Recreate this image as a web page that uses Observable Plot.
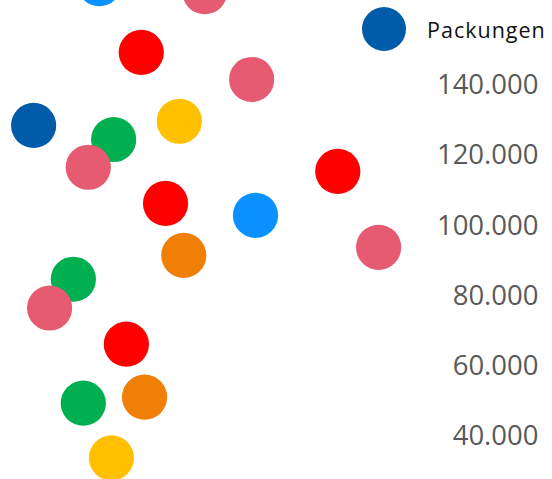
<!DOCTYPE html>
<html lang="de">
<head>
<meta charset="utf-8">
<script src="https://cdn.jsdelivr.net/npm/d3@7"></script>
<script src="https://cdn.jsdelivr.net/npm/@observablehq/plot@0.6"></script>
<style>
  html, body { margin: 0; padding: 0; background: #fff; }
  #wrap { position: relative; width: 552px; height: 479px; overflow: hidden; }
  #legend {
    position: absolute; top: 7px; left: 362px;
    display: flex; align-items: center; gap: 21px;
    font-family: "Open Sans", sans-serif; font-size: 21.5px; letter-spacing: 1px; color: #111;
  }
  #legend .swatch { width: 44px; height: 44px; border-radius: 50%; }
</style>
</head>
<body>
<div id="wrap">
  <div id="chart"></div>
  <div id="legend"></div>
</div>
<script>
// Series groups and their fill colours
const groupKeys = ["dunkelblau", "hellblau", "grün", "gelb", "orange", "rot", "rosa"];
const groupColors = ["#005CA9", "#0891FF", "#00B050", "#FFC000", "#F08005", "#FF0000", "#E65A72"];

// Points: group, x position (0–100) and number of packs
const pointGroup = [
  "dunkelblau",
  "hellblau", "hellblau",
  "grün", "grün", "grün",
  "gelb", "gelb",
  "orange", "orange",
  "rot", "rot", "rot", "rot",
  "rosa", "rosa", "rosa", "rosa", "rosa"
];
const pointX = [
  6.0,
  17.9, 46.2,
  20.5, 13.2, 15.0,
  32.4, 20.1,
  33.2, 26.1,
  25.5, 29.9, 22.8, 61.1,
  37.0, 45.5, 15.9, 8.9, 68.5
];
const pointY = [
  128600,
  169000, 103000,
  124600, 84800, 49500,
  129800, 33900,
  91600, 51200,
  149400, 106400, 66300, 115500,
  166700, 141700, 116700, 76600, 93900
];

const yTicks = [40000, 60000, 80000, 100000, 120000, 140000];
const legendLabel = "Packungen";
const legendColor = "#005CA9";

const points = pointX.map((x, i) => ({x, y: pointY[i], group: pointGroup[i]}));

// German number format: 140.000
const de = d3.formatLocale({decimal: ",", thousands: ".", grouping: [3], currency: ["", " €"]});
const fmt = de.format(",d");

const chart = Plot.plot({
  width: 552,
  height: 479,
  margin: 0,
  style: {fontFamily: "'Open Sans', sans-serif", background: "#fff"},
  x: {domain: [0, 100], axis: null},
  y: {domain: [27750, 164200]},
  color: {domain: groupKeys, range: groupColors},
  marks: [
    Plot.axisY(yTicks, {
      anchor: "right",
      tickSize: 0,
      tickPadding: 0,
      textAnchor: "end",
      dx: -14,
      fontSize: 27.5,
      fill: "#595959",
      tickFormat: fmt,
      label: null
    }),
    Plot.dot(points, {x: "x", y: "y", fill: "group", r: 22.6, stroke: null})
  ]
});
document.getElementById("chart").append(chart);

// Legend entry
const legend = document.getElementById("legend");
const sw = document.createElement("div");
sw.className = "swatch";
sw.style.background = legendColor;
const lab = document.createElement("span");
lab.textContent = legendLabel;
legend.append(sw, lab);
</script>
</body>
</html>
